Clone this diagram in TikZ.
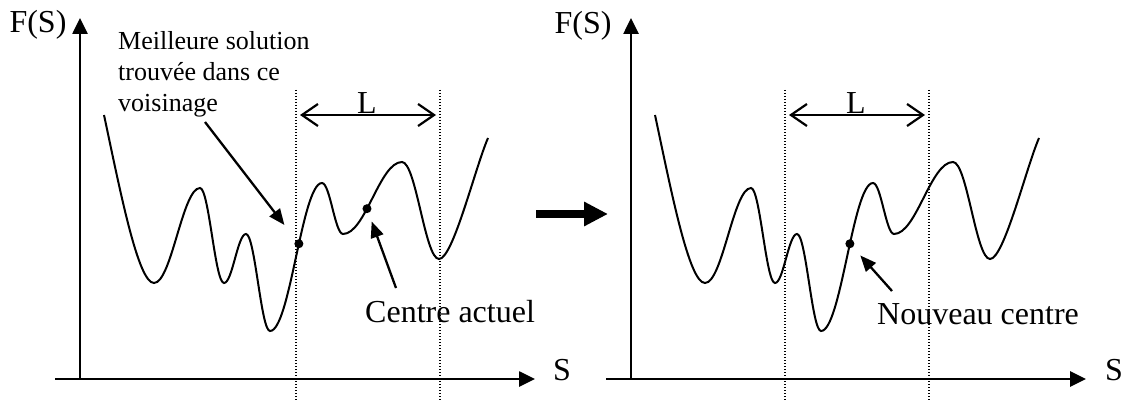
\documentclass[tikz,border=0pt]{standalone}
\usepackage{fontspec}
\setmainfont{Liberation Serif}
\usetikzlibrary{arrows.meta}

\newcommand{\fcurve}[1]{%
  \draw[crv] (104,115) .. controls (120,190) and (138,283) .. (154,283)
    .. controls (171.5,283) and (182.5,188) .. (200,188)
    .. controls (209,188) and (215,283) .. (224,283)
    .. controls (232.4,283) and (237.6,234) .. (246,234)
    .. controls (255,234) and (261,331) .. (270,331)
    .. controls (290,331) and (302,183) .. (322,183) coordinate[pos=0.56] (#1best)
    .. controls (330,183) and (335,234) .. (343,234)
    .. controls (365.4,234) and (379.6,162) .. (402,162) coordinate[pos=0.4] (#1cent)
    .. controls (416,162) and (425,259) .. (439,259)
    .. controls (453,259) and (475,168) .. (488,138);}

\begin{document}
\begin{tikzpicture}[x=1pt,y=-1pt,
  ax/.style={line width=2.6pt,-{Triangle[length=16pt,width=15pt]}},
  crv/.style={line width=2pt},
  vl/.style={line width=1.2pt,dash pattern=on 1.2pt off 1.8pt},
  lar/.style={line width=2.2pt,
    {Straight Barb[length=16pt,width=22pt]}-{Straight Barb[length=16pt,width=22pt]},
    shorten <=4pt,shorten >=4pt},
  ar/.style={line width=2.3pt,-{Triangle[length=16pt,width=13pt]}},
  big/.style={line width=8pt,-{Triangle[length=24pt,width=23pt]}},
  dot/.style={circle,fill,inner sep=0pt,minimum size=9pt},
  lab/.style={inner sep=0pt,font=\fontsize{32}{36}\selectfont},
  note/.style={inner sep=0pt,align=left,font=\fontsize{26}{31}\selectfont}
]
\useasboundingbox (0,0) rectangle (1123,401);

\coordinate (o1) at (80,379);  \coordinate (y1) at (80,18);
\coordinate (x0) at (55,379);  \coordinate (x1) at (535,379);
\coordinate (o2) at (631,379); \coordinate (y2) at (631,18);
\coordinate (x2a) at (606,379); \coordinate (x2) at (1086,379);
\draw[ax] (o1) -- (y1); \draw[ax] (x0) -- (x1);
\draw[ax] (o2) -- (y2); \draw[ax] (x2a) -- (x2);

\node[lab] (fs1) at (38,25)   {F(S)};
\node[lab] (fs2) at (583,26)  {F(S)};
\node[lab] (s1)  at (562,370) {S};
\node[lab] (s2)  at (1114,370){S};

\fcurve{A}
\begin{scope}[xshift=551pt]
  \fcurve{B}
\end{scope}

\coordinate (v1) at (296,90); \coordinate (v1b) at (296,401);
\coordinate (v2) at (440,90); \coordinate (v2b) at (440,401);
\coordinate (v3) at (785,90); \coordinate (v3b) at (785,401);
\coordinate (v4) at (929,90); \coordinate (v4b) at (929,401);
\draw[vl] (v1) -- (v1b); \draw[vl] (v2) -- (v2b);
\draw[vl] (v3) -- (v3b); \draw[vl] (v4) -- (v4b);

\draw[lar] ([yshift=-25pt]v1) -- ([yshift=-25pt]v2);
\draw[lar] ([yshift=-25pt]v3) -- ([yshift=-25pt]v4);
\node[lab] (L1) at (367,103) {L};
\node[lab] (L2) at (856,103) {L};

\node[dot] (dbest) at (Abest) {};
\node[dot] (dcent) at (Acent) {};
\node[dot] (dnew)  at (Bbest) {};

\node[note,anchor=north west] (meil) at (118,31)
  {Meilleure solution\\trouvée dans ce\\voisinage};
\node[lab,anchor=base west] (cact) at (365,322) {Centre actuel};
\node[lab,anchor=base west] (ncen) at (877,324) {Nouveau centre};

\coordinate (m1) at (205,122);
\coordinate (c1) at (396,288);
\coordinate (n1) at (892,291);
\draw[ar,shorten >=19pt] (m1) -- (dbest);
\draw[ar,shorten >=9pt] (c1) -- (dcent);
\draw[ar,shorten >=11pt] (n1) -- (dnew);

\coordinate (g1) at (536,214); \coordinate (g2) at (608,214);
\draw[big] (g1) -- (g2);
\end{tikzpicture}
\end{document}
